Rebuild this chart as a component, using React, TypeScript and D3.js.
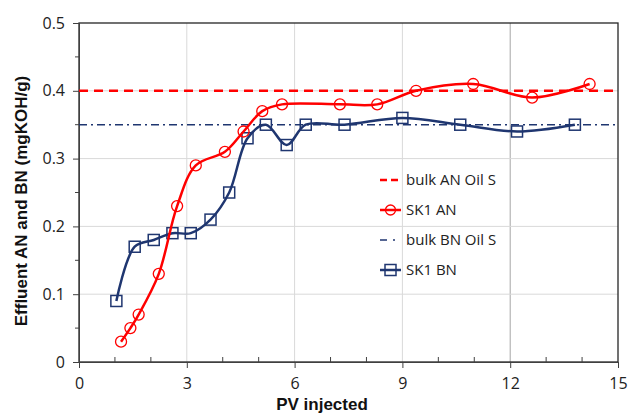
import React, { useEffect, useRef } from "react";
import * as d3 from "d3";

// SK1 AN (red circles)
const anX = [1.17, 1.43, 1.66, 2.22, 2.73, 3.25, 4.06, 4.58, 5.1, 5.65, 7.26, 8.3, 9.38, 10.97, 12.61, 14.21];
const anY = [0.03, 0.05, 0.07, 0.13, 0.23, 0.29, 0.31, 0.34, 0.37, 0.38, 0.38, 0.38, 0.4, 0.41, 0.39, 0.41];
// SK1 BN (navy squares)
const bnX = [1.04, 1.55, 2.08, 2.6, 3.11, 3.66, 4.18, 4.69, 5.2, 5.78, 6.31, 7.39, 9.0, 10.61, 12.19, 13.8];
const bnY = [0.09, 0.17, 0.18, 0.19, 0.19, 0.21, 0.25, 0.33, 0.35, 0.32, 0.35, 0.35, 0.36, 0.35, 0.34, 0.35];
const bulkAN = 0.4;
const bulkBN = 0.35;
const xTicks = [0, 3, 6, 9, 12, 15];
const yTicks = [0, 0.1, 0.2, 0.3, 0.4, 0.5];
const legendLabels = ["bulk AN Oil S", "SK1 AN", "bulk BN Oil S", "SK1 BN"];

const RED = "#ff0000";
const NAVY = "#1f3670";

const App: React.FC = () => {
  const svgRef = useRef<SVGSVGElement | null>(null);

  useEffect(() => {
    const width = 629;
    const height = 414;
    const marginLeft = 79;
    const marginRight = 11;
    const marginTop = 23;
    const marginBottom = 52;
    const font = "'Open Sans', 'Liberation Sans', sans-serif";
    const titleFont = "'Liberation Sans', Arial, sans-serif";

    const svg = d3.select(svgRef.current);
    svg.selectAll("*").remove();
    svg.attr("width", width).attr("height", height).attr("viewBox", [0, 0, width, height]);

    const x = d3.scaleLinear().domain([0, 15]).range([marginLeft, width - marginRight]);
    const y = d3.scaleLinear().domain([0, 0.5]).range([height - marginBottom, marginTop]);

    // gridlines
    svg
      .append("g")
      .selectAll("line.gx")
      .data(xTicks.slice(1, -1))
      .enter()
      .append("line")
      .attr("x1", (d) => x(d))
      .attr("x2", (d) => x(d))
      .attr("y1", y(0))
      .attr("y2", y(0.5))
      .attr("stroke", (d) => (d === 12 ? "#a6a6a6" : "#d9d9d9"))
      .attr("stroke-width", 1);
    svg
      .append("g")
      .selectAll("line.gy")
      .data(yTicks.slice(1, -1))
      .enter()
      .append("line")
      .attr("x1", x(0))
      .attr("x2", x(15))
      .attr("y1", (d) => y(d))
      .attr("y2", (d) => y(d))
      .attr("stroke", "#d9d9d9")
      .attr("stroke-width", 1);

    // frame
    svg
      .append("rect")
      .attr("x", x(0))
      .attr("y", y(0.5))
      .attr("width", x(15) - x(0))
      .attr("height", y(0) - y(0.5))
      .attr("fill", "none")
      .attr("stroke", "#262626")
      .attr("stroke-width", 1.3);

    // x axis
    const gx = svg.append("g").attr("transform", `translate(0,${y(0)})`);
    gx.call(
      d3
        .axisBottom(x)
        .tickValues(xTicks)
        .tickSize(6)
        .tickFormat(d3.format("d"))
    );
    gx.select(".domain").attr("stroke", "#404040");
    gx.selectAll(".tick line").attr("stroke", "#404040");
    gx.selectAll("text")
      .attr("font-family", font)
      .attr("font-size", 16)
      .attr("fill", "#222")
      .attr("dy", "1.15em");
    gx.append("g")
      .selectAll("line")
      .data(d3.range(1, 15).filter((d) => d % 3 !== 0))
      .enter()
      .append("line")
      .attr("x1", (d) => x(d))
      .attr("x2", (d) => x(d))
      .attr("y1", 0)
      .attr("y2", -5)
      .attr("stroke", "#404040");

    // y axis
    const gy = svg.append("g").attr("transform", `translate(${x(0)},0)`);
    gy.call(
      d3
        .axisLeft(y)
        .tickValues(yTicks)
        .tickSize(6)
        .tickFormat((d) => (d === 0 ? "0" : d3.format(".1f")(d as number)))
    );
    gy.select(".domain").attr("stroke", "#404040");
    gy.selectAll(".tick line").attr("stroke", "#404040");
    gy.selectAll("text")
      .attr("font-family", font)
      .attr("font-size", 16)
      .attr("fill", "#222")
      .attr("x", -14);
    gy.append("g")
      .selectAll("line")
      .data([0.05, 0.15, 0.25, 0.35, 0.45])
      .enter()
      .append("line")
      .attr("x1", 0)
      .attr("x2", -4)
      .attr("y1", (d) => y(d))
      .attr("y2", (d) => y(d))
      .attr("stroke", "#404040");

    // axis titles
    svg
      .append("text")
      .attr("x", 322)
      .attr("y", 410)
      .attr("text-anchor", "middle")
      .attr("font-family", titleFont)
      .attr("font-weight", "bold")
      .attr("font-size", 17)
      .attr("fill", "#111")
      .text("PV injected");
    svg
      .append("text")
      .attr("transform", `translate(27,201) rotate(-90)`)
      .attr("text-anchor", "middle")
      .attr("font-family", titleFont)
      .attr("font-weight", "bold")
      .attr("font-size", 17)
      .attr("fill", "#111")
      .text("Effluent AN and BN (mgKOH/g)");

    // bulk lines
    svg
      .append("line")
      .attr("x1", x(0))
      .attr("x2", x(15))
      .attr("y1", y(bulkAN))
      .attr("y2", y(bulkAN))
      .attr("stroke", RED)
      .attr("stroke-width", 2.5)
      .attr("stroke-dasharray", "9,6");
    svg
      .append("line")
      .attr("x1", x(0))
      .attr("x2", x(15))
      .attr("y1", y(bulkBN))
      .attr("y2", y(bulkBN))
      .attr("stroke", NAVY)
      .attr("stroke-width", 1.5)
      .attr("stroke-dasharray", "8,4,2,4");

    const line = d3
      .line<[number, number]>()
      .x((d) => x(d[0]))
      .y((d) => y(d[1]))
      .curve(d3.curveCatmullRom.alpha(0.5));

    const an: [number, number][] = anX.map((v, i) => [v, anY[i]]);
    const bn: [number, number][] = bnX.map((v, i) => [v, bnY[i]]);

    svg
      .append("path")
      .datum(bn)
      .attr("d", line)
      .attr("fill", "none")
      .attr("stroke", NAVY)
      .attr("stroke-width", 2.5);
    svg
      .append("g")
      .selectAll("rect")
      .data(bn)
      .enter()
      .append("rect")
      .attr("x", (d) => x(d[0]) - 5.5)
      .attr("y", (d) => y(d[1]) - 5.5)
      .attr("width", 11)
      .attr("height", 11)
      .attr("fill", "none")
      .attr("stroke", NAVY)
      .attr("stroke-width", 1.5);

    svg
      .append("path")
      .datum(an)
      .attr("d", line)
      .attr("fill", "none")
      .attr("stroke", RED)
      .attr("stroke-width", 2.5);
    svg
      .append("g")
      .selectAll("circle")
      .data(an)
      .enter()
      .append("circle")
      .attr("cx", (d) => x(d[0]))
      .attr("cy", (d) => y(d[1]))
      .attr("r", 5.5)
      .attr("fill", "none")
      .attr("stroke", RED)
      .attr("stroke-width", 1.3);

    // legend
    const lg = svg.append("g").attr("transform", "translate(380,180)");
    const rowH = 30;
    legendLabels.forEach((label, i) => {
      const row = lg.append("g").attr("transform", `translate(0,${i * rowH})`);
      const color = i < 2 ? RED : NAVY;
      const l = row
        .append("line")
        .attr("x1", 0)
        .attr("x2", 21)
        .attr("y1", 0)
        .attr("y2", 0)
        .attr("stroke", color)
        .attr("stroke-width", i === 2 ? 1.5 : 2.5);
      if (i === 0) l.attr("stroke-dasharray", "7,4");
      if (i === 2) l.attr("stroke-dasharray", "7,6,2,6");
      if (i === 1)
        row
          .append("circle")
          .attr("cx", 10.5)
          .attr("cy", 0)
          .attr("r", 5)
          .attr("fill", "none")
          .attr("stroke", RED)
          .attr("stroke-width", 1.3);
      if (i === 3)
        row
          .append("rect")
          .attr("x", 5)
          .attr("y", -5.5)
          .attr("width", 11)
          .attr("height", 11)
          .attr("fill", "none")
          .attr("stroke", NAVY)
          .attr("stroke-width", 1.5);
      row
        .append("text")
        .attr("x", 26)
        .attr("y", 0)
        .attr("dy", "0.35em")
        .attr("font-family", font)
        .attr("font-size", 15)
        .attr("fill", "#222")
        .text(label);
    });
  }, []);

  return (
    <div style={{ position: "absolute", left: 0, top: 0 }}>
      <svg ref={svgRef}></svg>
    </div>
  );
};

export default App;
